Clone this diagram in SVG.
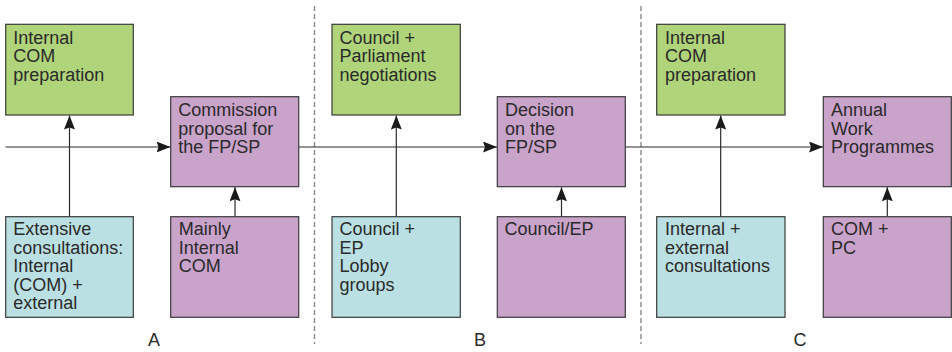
<svg xmlns="http://www.w3.org/2000/svg" width="952" height="352" viewBox="0 0 952 352">
<style>
.box{stroke:#3a3a3a;stroke-width:1.2}
.g{fill:#b0d47a}.p{fill:#c9a3ca}.b{fill:#bbe0e3}
text{font-family:"Liberation Sans",Arial,sans-serif;font-size:18px;fill:#2a2a2a}
.lbl{text-anchor:middle}
.conn{stroke:#2a2a2a;stroke-width:1.2;fill:none}
.sep{stroke:#8a8a8a;stroke-width:1.4;stroke-dasharray:5,3}
</style>
<defs>
<marker id="ah" viewBox="0 0 14 11" refX="14" refY="5.5" markerWidth="14" markerHeight="11" markerUnits="userSpaceOnUse" orient="auto">
<path d="M0,0 L14,5.5 L0,11 L2,5.5 Z" fill="#1a1a1a"/>
</marker>
</defs>
<g id="separators">
<line class="sep" x1="314.5" y1="6" x2="314.5" y2="344"/>
<line class="sep" x1="641" y1="6" x2="641" y2="344"/>
</g>
<g id="connectors">
<line class="conn" x1="5.5" y1="147" x2="170.5" y2="147" marker-end="url(#ah)"/>
<line class="conn" x1="298.7" y1="147" x2="497" y2="147" marker-end="url(#ah)"/>
<line class="conn" x1="625.3" y1="147" x2="823" y2="147" marker-end="url(#ah)"/>
<line class="conn" x1="69.5" y1="216.7" x2="69.5" y2="115.5" marker-end="url(#ah)"/>
<line class="conn" x1="396.3" y1="216.7" x2="396.3" y2="115.5" marker-end="url(#ah)"/>
<line class="conn" x1="720.7" y1="216.7" x2="720.7" y2="115.5" marker-end="url(#ah)"/>
<line class="conn" x1="235" y1="216.7" x2="235" y2="187.3" marker-end="url(#ah)"/>
<line class="conn" x1="561.5" y1="216.7" x2="561.5" y2="187.3" marker-end="url(#ah)"/>
<line class="conn" x1="887.3" y1="216.7" x2="887.3" y2="187.3" marker-end="url(#ah)"/>
</g>
<g id="greenA"><rect class="box g" x="5.7" y="24.3" width="127.6" height="90.7"/>
<text x="13.3" y="43.5">Internal<tspan x="13.3" dy="18.5">COM</tspan><tspan x="13.3" dy="18.5">preparation</tspan></text></g>
<g id="purpleA"><rect class="box p" x="170.7" y="96.7" width="128" height="90"/>
<text x="178.3" y="116">Commission<tspan x="178.3" dy="18.5">proposal for</tspan><tspan x="178.3" dy="18.5">the FP/SP</tspan></text></g>
<g id="blueA"><rect class="box b" x="5.7" y="216.7" width="127.6" height="100.6"/>
<text x="13.3" y="235">Extensive<tspan x="13.3" dy="18.5">consultations:</tspan><tspan x="13.3" dy="18.5">Internal</tspan><tspan x="13.3" dy="18.5">(COM) +</tspan><tspan x="13.3" dy="18.5">external</tspan></text></g>
<g id="purpleA2"><rect class="box p" x="170.7" y="216.7" width="128" height="100.6"/>
<text x="178.8" y="235">Mainly<tspan x="178.8" dy="18.5">Internal</tspan><tspan x="178.8" dy="18.5">COM</tspan></text></g>
<g id="greenB"><rect class="box g" x="332" y="24.3" width="128.3" height="90.7"/>
<text x="339.5" y="43.5">Council +<tspan x="339.5" dy="18.5">Parliament</tspan><tspan x="339.5" dy="18.5">negotiations</tspan></text></g>
<g id="purpleB"><rect class="box p" x="497.3" y="96.7" width="128" height="90"/>
<text x="505" y="116">Decision<tspan x="505" dy="18.5">on the</tspan><tspan x="505" dy="18.5">FP/SP</tspan></text></g>
<g id="blueB"><rect class="box b" x="332" y="216.7" width="128.3" height="100.6"/>
<text x="339.5" y="235">Council +<tspan x="339.5" dy="18.5">EP</tspan><tspan x="339.5" dy="18.5">Lobby</tspan><tspan x="339.5" dy="18.5">groups</tspan></text></g>
<g id="purpleB2"><rect class="box p" x="497.3" y="216.7" width="128" height="100.6"/>
<text x="504.5" y="235">Council/EP</text></g>
<g id="greenC"><rect class="box g" x="656.7" y="24.3" width="128.3" height="90.7"/>
<text x="665" y="43.5">Internal<tspan x="665" dy="18.5">COM</tspan><tspan x="665" dy="18.5">preparation</tspan></text></g>
<g id="purpleC"><rect class="box p" x="823.3" y="96.7" width="128" height="90"/>
<text x="831" y="116">Annual<tspan x="831" dy="18.5">Work</tspan><tspan x="831" dy="18.5">Programmes</tspan></text></g>
<g id="blueC"><rect class="box b" x="656.7" y="216.7" width="128.3" height="100.6"/>
<text x="665" y="235">Internal +<tspan x="665" dy="18.5">external</tspan><tspan x="665" dy="18.5">consultations</tspan></text></g>
<g id="purpleC2"><rect class="box p" x="823.3" y="216.7" width="128" height="100.6"/>
<text x="831" y="235">COM +<tspan x="831" dy="18.5">PC</tspan></text></g>
<g id="labels">
<text class="lbl" x="154" y="346">A</text>
<text class="lbl" x="480" y="346">B</text>
<text class="lbl" x="800" y="346">C</text>
</g>
</svg>
